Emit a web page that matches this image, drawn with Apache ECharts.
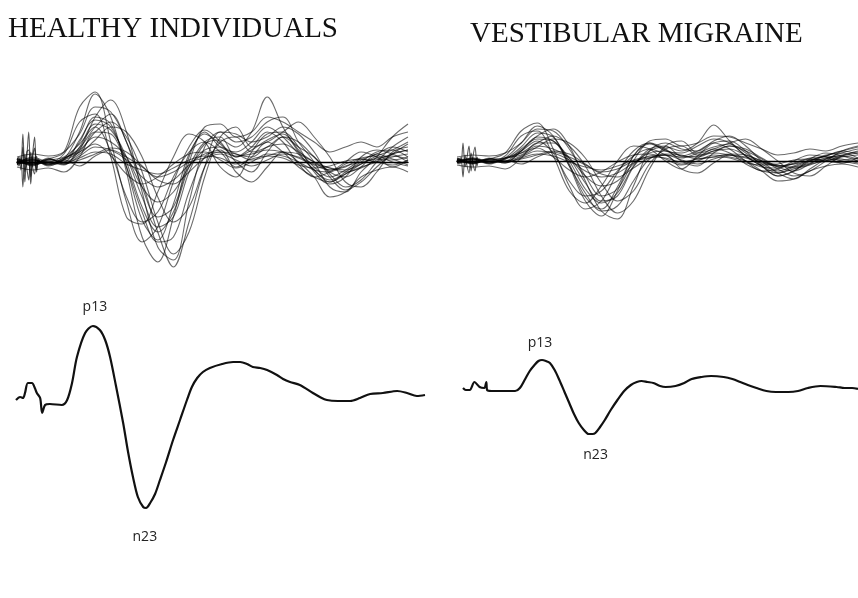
<!DOCTYPE html>
<html>
<head>
<meta charset="utf-8">
<script src="https://cdn.jsdelivr.net/npm/echarts@6/dist/echarts.min.js"></script>
<style>
  html, body { margin: 0; padding: 0; background: #fff; }
  #chart { width: 858px; height: 598px; }
</style>
</head>
<body>
<div id="chart"></div>
<script>
"use strict";

// sampling grid of the single-subject traces (arbitrary time units)
var tGrid = [0, 4, 8, 12, 16, 20, 24, 28, 32, 36, 40, 44, 48, 52, 56, 60, 64, 68, 72, 76, 80, 84, 88, 92, 96, 100];
// stimulus artifact, finer sampling
var artT = [0, 0.5, 1, 1.5, 2, 2.5, 3, 3.5, 4, 4.5, 5, 5.5, 6];

// healthy individuals - single traces
var healthyTraces = [
    [0, 4, -3, 3, 30, 68, 45, -10, -75, -100, -55, 5, 30, 15, 10, 20, 35, 25, 8, -8, -20, -12, -2, 6, 12, 20],
    [2, -3, 4, -2, 12, 45, 62, 30, -30, -85, -98, -40, 15, 30, 20, 25, 40, 45, 20, 0, -25, -30, -10, 5, 25, 38],
    [-2, 5, 0, 8, 40, 48, 5, -55, -62, -30, 5, 28, 20, -5, -15, 10, 28, 30, 15, -10, -22, -15, 5, 12, 8, 0],
    [3, -4, 2, 0, 22, 42, 35, 0, -45, -70, -50, -5, 20, 25, 5, 15, 30, 20, -2, -15, -10, 0, 10, 5, -5, 2],
    [-3, 2, -2, 4, 12, 25, 20, 5, -25, -40, -30, -5, 12, 15, 8, 5, 15, 18, 10, 0, -8, -5, 3, 0, 5, 8],
    [0, 3, -4, 2, 10, 30, 40, 25, -10, -60, -92, -70, -15, 25, 35, 15, 20, 30, 40, 25, 5, -20, -25, -10, 10, 15],
    [4, -2, 3, 10, 55, 70, 20, -40, -80, -65, -20, 15, 32, 20, 0, -10, 10, 25, 15, 5, -12, -25, -18, 0, 15, 25],
    [-2, 0, 2, 5, 18, 35, 10, -35, -60, -50, -15, 10, 20, 10, -5, 5, 20, 10, -5, -15, -20, -10, 0, 10, 12, 5],
    [1, -3, 0, -3, 15, 38, 32, 5, -35, -65, -55, -10, 18, 22, 15, 30, 65, 35, 10, -8, -18, -12, -5, 0, 8, 12],
    [-5, -8, -6, -10, 5, 30, 28, -5, -50, -80, -75, -30, 5, 12, -10, -20, -5, 10, 0, -15, -35, -30, -15, -8, -5, -10],
    [5, 8, 6, 10, 28, 55, 50, 20, -25, -55, -45, 0, 35, 38, 25, 30, 45, 40, 30, 20, 10, 15, 20, 15, 25, 30],
    [0, -2, 3, 0, 8, 22, 35, 30, 5, -35, -60, -45, -5, 20, 25, 10, 15, 25, 20, 5, -10, -15, -5, 8, 3, -3],
    [-1, 2, -1, 2, 20, 45, 38, -5, -58, -78, -42, 8, 28, 18, 5, 12, 22, 28, 12, -5, -15, -8, 2, 8, 15, 10],
    [2, -2, 1, -2, 6, 15, 12, 2, -15, -25, -18, -3, 8, 10, 6, 8, 12, 10, 4, -3, -8, -4, 0, 3, 2, 5],
    [0, 2, -2, 3, 14, 35, 48, 20, -20, -70, -105, -60, -5, 30, 28, 20, 25, 35, 28, 10, -15, -28, -20, -5, 8, 18],
    [1, -2, 3, -1, 4, 10, 8, -2, -8, -12, -6, 2, 6, 4, -2, 3, 6, 4, -3, -6, -4, 1, 3, 0, -3, 2],
    [-2, 3, -3, 2, -4, 6, 12, 5, -5, -15, -10, 0, 4, 8, 2, -4, 2, 8, 5, -2, -6, -8, -2, 4, 6, 3],
    [3, 0, -2, 4, 10, 18, 6, -12, -22, -15, -2, 8, 10, 2, -6, 0, 8, 6, 0, -8, -10, -2, 4, 6, 0, -4],
    [-1, 1, 0, -2, 2, 8, 14, 10, -4, -18, -22, -10, 4, 10, 8, 2, 6, 10, 8, 0, -6, -10, -6, 2, 8, 12]
];
var healthyArtifact = [
    [0, 3, -2, 28, -10, 5, 30, -15, 8, 25, -8, 3, 0],
    [0, -4, 5, -25, 8, -6, -18, 10, -5, -12, 6, -2, 0],
    [2, 5, -8, 15, -20, 10, 12, -22, 4, 14, -10, 2, -1]
];

// vestibular migraine - single traces
var migraineTraces = [
    [0, 3, -2, 3, 18, 35, 25, -5, -40, -55, -30, 5, 18, 10, 8, 15, 22, 18, 5, -5, -15, -10, 0, 5, 10, 14],
    [2, -2, 3, -1, 10, 25, 32, 15, -20, -50, -58, -25, 10, 18, 12, 10, 20, 25, 15, 0, -12, -18, -8, 2, 8, 12],
    [-2, 3, 0, 5, 25, 30, 5, -30, -42, -25, 0, 15, 12, 0, -8, 5, 18, 20, 10, -5, -15, -10, 2, 8, 5, 0],
    [1, -3, 2, 0, 12, 22, 20, 0, -28, -42, -32, -5, 12, 15, 5, 10, 18, 12, 0, -10, -8, 0, 6, 4, -2, 3],
    [-1, 2, -2, 3, 6, 15, 12, 3, -15, -25, -20, -3, 8, 10, 5, 4, 10, 12, 6, 0, -5, -3, 2, 0, 4, 6],
    [0, 2, -3, 2, 8, 18, 25, 15, -5, -35, -52, -40, -8, 15, 20, 8, 12, 18, 22, 12, 0, -12, -15, -5, 5, 10],
    [3, -2, 2, 8, 30, 38, 12, -25, -48, -40, -12, 10, 18, 12, 0, -5, 8, 15, 10, 2, -8, -15, -10, 0, 10, 15],
    [-2, 0, 2, 3, 10, 20, 8, -20, -35, -30, -10, 5, 12, 6, -3, 3, 12, 8, -3, -10, -12, -6, 0, 6, 8, 3],
    [1, -2, 0, -2, 10, 24, 20, 3, -22, -40, -35, -6, 10, 14, 10, 18, 36, 20, 5, -5, -12, -8, -3, 0, 5, 8],
    [-4, -6, -5, -8, 3, 18, 18, -5, -32, -50, -45, -20, 2, 6, -8, -12, -2, 6, 0, -10, -20, -18, -10, -5, -3, -6],
    [4, 6, 5, 8, 18, 32, 30, 12, -15, -35, -28, 0, 20, 22, 15, 18, 25, 24, 18, 12, 6, 8, 12, 10, 15, 18],
    [0, -2, 2, 0, 5, 14, 22, 18, 3, -22, -40, -30, -3, 12, 15, 6, 10, 15, 12, 3, -6, -10, -3, 5, 2, -2],
    [-1, 2, -1, 2, 14, 28, 24, -3, -36, -48, -26, 5, 17, 11, 3, 8, 14, 17, 8, -3, -10, -5, 1, 5, 10, 7],
    [2, -2, 1, -2, 4, 10, 8, 1, -10, -16, -12, -2, 5, 6, 4, 5, 8, 6, 3, -2, -5, -3, 0, 2, 1, 3],
    [1, -2, 2, -1, 3, 7, 5, -1, -6, -9, -5, 1, 4, 3, -1, 2, 4, 3, -2, -4, -3, 1, 2, 0, -2, 1],
    [-2, 2, -2, 1, -3, 4, 9, 4, -4, -11, -8, 0, 3, 6, 1, -3, 2, 6, 4, -1, -5, -6, -2, 3, 5, 2],
    [2, 0, -2, 3, 8, 13, 4, -9, -16, -11, -1, 6, 7, 2, -4, 0, 6, 4, 0, -6, -7, -2, 3, 4, 0, -3],
    [-1, 1, 0, -1, 2, 6, 10, 7, -3, -13, -16, -7, 3, 7, 6, 2, 4, 7, 6, 0, -4, -7, -4, 2, 6, 9]
];
var migraineArtifact = [
    [0, 3, -3, 18, -6, 4, 15, -10, 5, 14, -5, 2, 0],
    [0, -3, 4, -16, 6, -5, -12, 8, -3, -10, 4, -1, 0]
];

// grand averages [time, amplitude]
var healthyAvg = [
    [0, 5], [1.0, 8], [1.7, 7], [2.2, 12], [2.9, 22], [3.9, 22], [4.6, 17], [5.1, 12], [5.9, 7], [6.4, -8],
    [7.1, 0], [8.3, 1], [11.2, 0], [12.5, 5], [13.7, 22], [14.9, 48], [16.9, 72], [18.8, 79], [20.5, 75],
    [21.8, 65], [23.0, 48], [24.4, 20], [26.2, -18], [27.4, -47], [28.6, -72], [29.8, -92], [31.1, -102],
    [31.8, -103], [32.8, -98], [34.0, -89], [35.2, -75], [36.7, -57], [38.4, -35], [40.1, -15], [41.8, 5],
    [43.0, 18], [44.3, 27], [45.7, 33], [47.4, 37], [50.4, 41], [53.1, 43], [54.8, 43], [56.5, 41], [57.9, 38],
    [59.7, 37], [61.4, 35], [63.8, 30], [65.3, 26], [67.0, 23], [69.4, 20], [72.6, 12], [74.3, 8], [76.0, 5],
    [78.7, 4], [81.7, 4], [84.1, 7], [86.6, 11], [89.7, 12], [93.2, 14], [95.6, 12], [98.0, 9], [100, 10]
];
var migraineAvg = [
    [0, 3], [0.7, 1], [1.7, 1], [2.9, 9], [4.2, 4], [5.4, 3], [5.9, 9], [6.1, 1], [7.3, 0], [13.2, 0],
    [14.4, 3], [15.6, 11], [16.9, 20], [18.1, 26], [19.1, 30], [20.0, 31], [21.0, 30], [22.0, 28], [23.2, 21],
    [24.4, 11], [25.7, -1], [26.9, -12], [28.1, -23], [29.3, -32], [30.6, -39], [31.8, -43], [32.8, -43],
    [33.5, -42], [34.7, -36], [35.9, -29], [37.4, -19], [39.1, -9], [40.8, 0], [42.5, 6], [44.0, 9], [45.2, 10],
    [46.7, 9], [48.2, 8], [49.9, 5], [51.3, 4], [53.8, 5], [56.0, 8], [57.9, 12], [60.4, 14], [62.8, 15],
    [66.0, 14], [68.2, 12], [70.2, 9], [72.1, 6], [74.3, 3], [76.8, 0], [79.2, -1], [82.4, -1], [84.8, 0],
    [87.3, 3], [90.5, 5], [94.6, 4], [96.6, 3], [98.5, 3], [100, 2]
];
// peak markers: [label, time, amplitude]
var healthyPeaks = [["p13", 18.8, 79], ["n23", 31.5, -103]];
var migrainePeaks = [["p13", 20.0, 31], ["n23", 32.3, -43]];

var chart = echarts.init(document.getElementById("chart"));

function traceSeries(times, values, gridIdx, color) {
    return {
        type: "line",
        xAxisIndex: gridIdx,
        yAxisIndex: gridIdx,
        data: times.map(function (t, i) { return [t, values[i]]; }),
        smooth: 0.35,
        symbol: "none",
        silent: true,
        lineStyle: { color: color, width: 1.1 },
        z: 2
    };
}

function avgSeries(data, peaks, gridIdx, offsets) {
    return {
        type: "line",
        xAxisIndex: gridIdx,
        yAxisIndex: gridIdx,
        data: data,
        smooth: 0.3,
        symbol: "none",
        lineStyle: { color: "#111", width: 2.2 },
        markPoint: {
            symbol: "circle",
            symbolSize: 0,
            label: {
                show: true,
                color: "#222",
                fontFamily: "Open Sans",
                fontSize: 14
            },
            data: peaks.map(function (p, i) {
                return {
                    coord: [p[1], p[2]],
                    label: { formatter: p[0], offset: offsets[i] }
                };
            })
        }
    };
}

var series = [];
healthyTraces.forEach(function (tr) { series.push(traceSeries(tGrid, tr, 0, "rgba(0,0,0,0.58)")); });
healthyArtifact.forEach(function (tr) { series.push(traceSeries(artT, tr, 0, "rgba(0,0,0,0.65)")); });
migraineTraces.forEach(function (tr) { series.push(traceSeries(tGrid, tr, 1, "rgba(0,0,0,0.58)")); });
migraineArtifact.forEach(function (tr) { series.push(traceSeries(artT, tr, 1, "rgba(0,0,0,0.65)")); });
series.push(avgSeries(healthyAvg, healthyPeaks, 2, [[2, -19], [0, 29]]));
series.push(avgSeries(migraineAvg, migrainePeaks, 3, [[-2, -17], [5, 21]]));

function xAx(gridIdx, showLine) {
    return {
        type: "value", gridIndex: gridIdx, min: 0, max: 100,
        axisLine: { show: showLine, onZero: true, lineStyle: { color: "#000", width: 1.4 } },
        axisTick: { show: false }, axisLabel: { show: false }, splitLine: { show: false }
    };
}
function yAx(gridIdx, min, max) {
    return { type: "value", gridIndex: gridIdx, min: min, max: max, show: false };
}

var titleFont = { fontFamily: "Liberation Serif", fontWeight: "normal", fontSize: 29, color: "#111" };

var option = {
    animation: false,
    backgroundColor: "#fff",
    title: [
        { text: "HEALTHY INDIVIDUALS", left: 3, top: 10, textStyle: titleFont },
        { text: "VESTIBULAR MIGRAINE", left: 465, top: 15, textStyle: titleFont }
    ],
    grid: [
        { left: 17, top: 82, width: 391, height: 190 },
        { left: 457, top: 81, width: 405, height: 190 },
        { left: 16, top: 315, width: 409, height: 200 },
        { left: 463, top: 301, width: 409, height: 200 }
    ],
    xAxis: [xAx(0, true), xAx(1, true), xAx(2, false), xAx(3, false)],
    yAxis: [yAx(0, -110, 80), yAx(1, -110, 80), yAx(2, -110, 90), yAx(3, -110, 90)],
    series: series
};

chart.setOption(option);
</script>
</body>
</html>
